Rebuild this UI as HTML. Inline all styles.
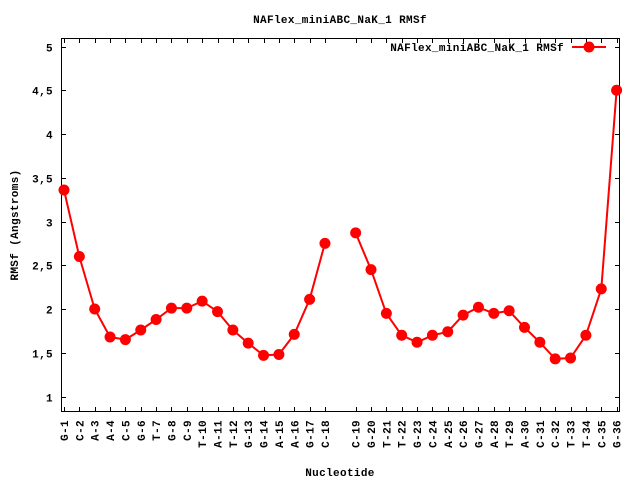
<!DOCTYPE html>
<html><head><meta charset="utf-8"><style>
html,body{margin:0;padding:0;background:#fff;}
svg{display:block;}
text{font-family:"Liberation Mono","DejaVu Sans Mono",monospace;font-weight:bold;font-size:11px;letter-spacing:0.35px;fill:#000;}
</style></head><body>
<svg width="640" height="480" viewBox="0 0 640 480" xmlns="http://www.w3.org/2000/svg">
<rect width="640" height="480" fill="#fff"/>
<text x="340" y="23" text-anchor="middle">NAFlex_miniABC_NaK_1 RMSf</text>
<text transform="translate(18,225) rotate(-90)" text-anchor="middle">RMSf (Angstroms)</text>
<text x="340" y="476" text-anchor="middle">Nucleotide</text>
<g id="frame" stroke="#000" stroke-width="1" fill="none">
<rect x="61.5" y="38.5" width="558" height="373"/>
</g>
<g id="yt"></g>
<g id="xt"></g>
<g id="data"></g>
<text x="564" y="51" text-anchor="end">NAFlex_miniABC_NaK_1 RMSf</text>
<line x1="572" y1="47" x2="606" y2="47" stroke="#f00" stroke-width="2"/>
<circle cx="589" cy="47" r="5.5" fill="#f00"/>
<script>
var ns="http://www.w3.org/2000/svg";
function el(t,a,p,txt){var e=document.createElementNS(ns,t);for(var k in a)e.setAttribute(k,a[k]);if(txt)e.textContent=txt;document.getElementById(p).appendChild(e);return e;}
function Y(v){return 46.5+(5-v)*87.5;}
for(var v=1;v<=5.001;v+=0.5){var y=Math.round(Y(v))+0.5;
el('line',{x1:61.5,y1:y,x2:66,y2:y,stroke:'#000'},'yt');
el('line',{x1:619.5,y1:y,x2:615,y2:y,stroke:'#000'},'yt');
el('text',{x:53,y:y+4,'text-anchor':'end'},'yt',String(v).replace('.',','));}
var names=['G','C','A','A','C','G','T','G','C','T','A','T','G','G','A','A','G','C','C','G','T','T','G','C','A','C','G','A','T','A','C','C','T','T','C','G'];
var vals=[3.36,2.6,2.0,1.68,1.65,1.76,1.88,2.01,2.01,2.09,1.97,1.76,1.61,1.47,1.48,1.71,2.11,2.75,2.87,2.45,1.95,1.70,1.62,1.70,1.74,1.93,2.02,1.95,1.98,1.79,1.62,1.43,1.44,1.70,2.23,4.5];
function X(i){var idx=i<=18?i-1:i;return 64+idx*15.35;}
var p1=[],p2=[];
for(var i=1;i<=36;i++){var x=X(i),xr=Math.round(x)+0.5;
el('line',{x1:xr,y1:411.5,x2:xr,y2:407,stroke:'#000'},'xt');
el('line',{x1:xr,y1:38.5,x2:xr,y2:43,stroke:'#000'},'xt');
el('text',{transform:'translate('+(x+4)+',420) rotate(-90)','text-anchor':'end'},'xt',names[i-1]+'-'+i);
(i<=18?p1:p2).push(x.toFixed(1)+','+Y(vals[i-1]).toFixed(1));}
el('polyline',{points:p1.join(' '),fill:'none',stroke:'#f00','stroke-width':2},'data');
el('polyline',{points:p2.join(' '),fill:'none',stroke:'#f00','stroke-width':2},'data');
for(var i=1;i<=36;i++)el('circle',{cx:X(i),cy:Y(vals[i-1]),r:5.5,fill:'#f00'},'data');
</script>
</svg>
</body></html>
